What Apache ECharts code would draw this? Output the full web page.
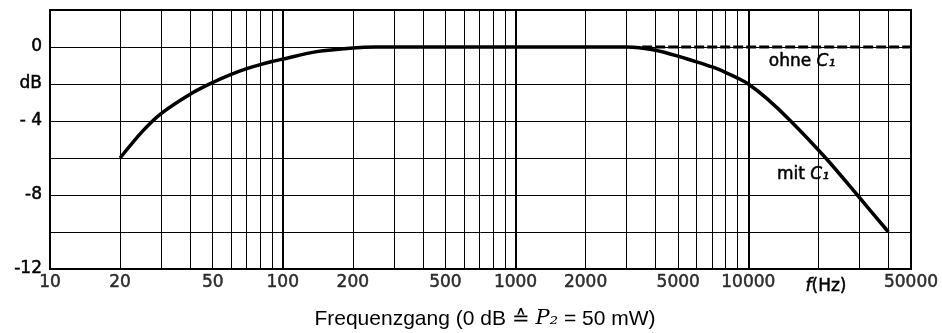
<!DOCTYPE html>
<html>
<head>
<meta charset="utf-8">
<script src="https://cdn.jsdelivr.net/npm/echarts@6/dist/echarts.min.js"></script>
<style>
  html, body { margin: 0; padding: 0; background: #fff; }
  #chart { width: 942px; height: 333px; }
</style>
</head>
<body>
<div id="chart"></div>
<script>
// x tick labels (Hz) and grid lines
const xTickValues = [10, 20, 50, 100, 200, 500, 1000, 2000, 5000, 10000, 50000];
const xGridMinor = [20, 30, 40, 50, 60, 70, 80, 90,
  200, 300, 400, 500, 600, 700, 800, 900,
  2000, 3000, 4000, 5000, 6000, 7000, 8000, 9000,
  20000, 30000, 40000];
const xGridDecades = [100, 1000, 10000];

// y tick labels
const yTickValues = [0, -2, -4, -8, -12];
const yTickLabels = ['0', 'dB', '- 4', '-8', '-12'];

// mit C1
const mitFreq = [20, 25, 30, 40, 50, 60, 70, 80, 90, 100, 140, 200, 250, 500, 1000, 2000, 3000, 3400,
  4000, 5000, 6000, 7000, 8000, 9000, 10000, 12000, 15200, 21500, 29400, 40000];
const mitDb = [-6, -4.55, -3.6, -2.55, -1.92, -1.48, -1.17, -0.95, -0.78, -0.65, -0.25, -0.05, 0, 0, 0, 0, 0, -0.04,
  -0.18, -0.5, -0.8, -1.08, -1.38, -1.68, -2.0, -2.78, -4.0, -6.0, -8.0, -10.0];

// ohne C1
const ohneFreq = [3500, 50000];
const ohneDb = [0, 0];

const chart = echarts.init(document.getElementById('chart'));
const font = 'DejaVu Sans';
const bold = { textBorderColor: '#000', textBorderWidth: 0.5 };
const gBold = { stroke: '#000', lineWidth: 0.5 };

chart.setOption({
  animation: false,
  grid: {
    left: 50, right: 31, top: 10, bottom: 64,
    show: true, borderColor: '#000', borderWidth: 2
  },
  xAxis: {
    type: 'log',
    logBase: 10,
    min: 10,
    max: 50000,
    axisLine: { show: false },
    axisTick: { show: false },
    axisLabel: { show: false },
    splitLine: { show: false }
  },
  yAxis: {
    type: 'value',
    min: -12,
    max: 2,
    interval: 2,
    axisLine: { show: false },
    axisTick: { show: false },
    splitLine: { show: true, lineStyle: { color: '#000', width: 1 } },
    axisLabel: Object.assign({
      color: '#000',
      fontFamily: font,
      fontSize: 17,
      margin: 8,
      formatter: v => {
        const i = yTickValues.indexOf(v);
        return i < 0 ? '' : yTickLabels[i];
      }
    }, bold)
  },
  series: [
    {
      // vertical grid lines
      type: 'line',
      data: [],
      silent: true,
      z: 1,
      markLine: {
        silent: true,
        symbol: 'none',
        label: { show: false },
        animation: false,
        data: xGridMinor.map(v => ({ xAxis: v, lineStyle: { color: '#000', width: 1, type: 'solid' } }))
          .concat(xGridDecades.map(v => ({ xAxis: v, lineStyle: { color: '#000', width: 2, type: 'solid' } })))
      }
    },
    {
      name: 'ohne C1',
      type: 'line',
      data: ohneFreq.map((f, i) => [f, ohneDb[i]]),
      showSymbol: false,
      z: 3,
      lineStyle: { color: '#000', width: 3, type: [10, 3] }
    },
    {
      name: 'mit C1',
      type: 'line',
      data: mitFreq.map((f, i) => [f, mitDb[i]]),
      showSymbol: false,
      smooth: 0.3,
      z: 4,
      lineStyle: { color: '#000', width: 3.5 }
    },
    {
      // x tick labels
      type: 'scatter',
      data: xTickValues.map(v => [v, -12]),
      symbolSize: 0,
      silent: true,
      z: 5,
      label: Object.assign({
        show: true,
        position: 'bottom',
        distance: 5,
        color: '#000',
        fontFamily: font,
        fontSize: 17,
        formatter: p => String(p.value[0])
      }, bold)
    }
  ],
  graphic: [
    {
      type: 'text', x: 802, y: 62,
      style: Object.assign({
        text: 'ohne {i|C₁}', fill: '#000', fontFamily: font, fontSize: 17,
        align: 'center', verticalAlign: 'middle',
        rich: { i: { fontStyle: 'italic', fontFamily: font, fontSize: 17 } }
      }, gBold)
    },
    {
      type: 'text', x: 803, y: 175,
      style: Object.assign({
        text: 'mit {i|C₁}', fill: '#000', fontFamily: font, fontSize: 17,
        align: 'center', verticalAlign: 'middle',
        rich: { i: { fontStyle: 'italic', fontFamily: font, fontSize: 17 } }
      }, gBold)
    },
    {
      type: 'text', x: 826, y: 287,
      style: Object.assign({
        text: '{i|f}(Hz)', fill: '#000', fontFamily: font, fontSize: 17,
        align: 'center', verticalAlign: 'middle',
        rich: { i: { fontStyle: 'italic', fontFamily: font, fontSize: 17 } }
      }, gBold)
    },
    {
      type: 'text', x: 485, y: 319,
      style: {
        text: 'Frequenzgang (0 dB ≙ {m|P₂} = 50 mW)', fill: '#000',
        fontFamily: 'Liberation Sans', fontSize: 21,
        align: 'center', verticalAlign: 'middle',
        rich: { m: { fontStyle: 'italic', fontFamily: 'DejaVu Serif', fontSize: 21 } }
      }
    }
  ]
});
</script>
</body>
</html>
